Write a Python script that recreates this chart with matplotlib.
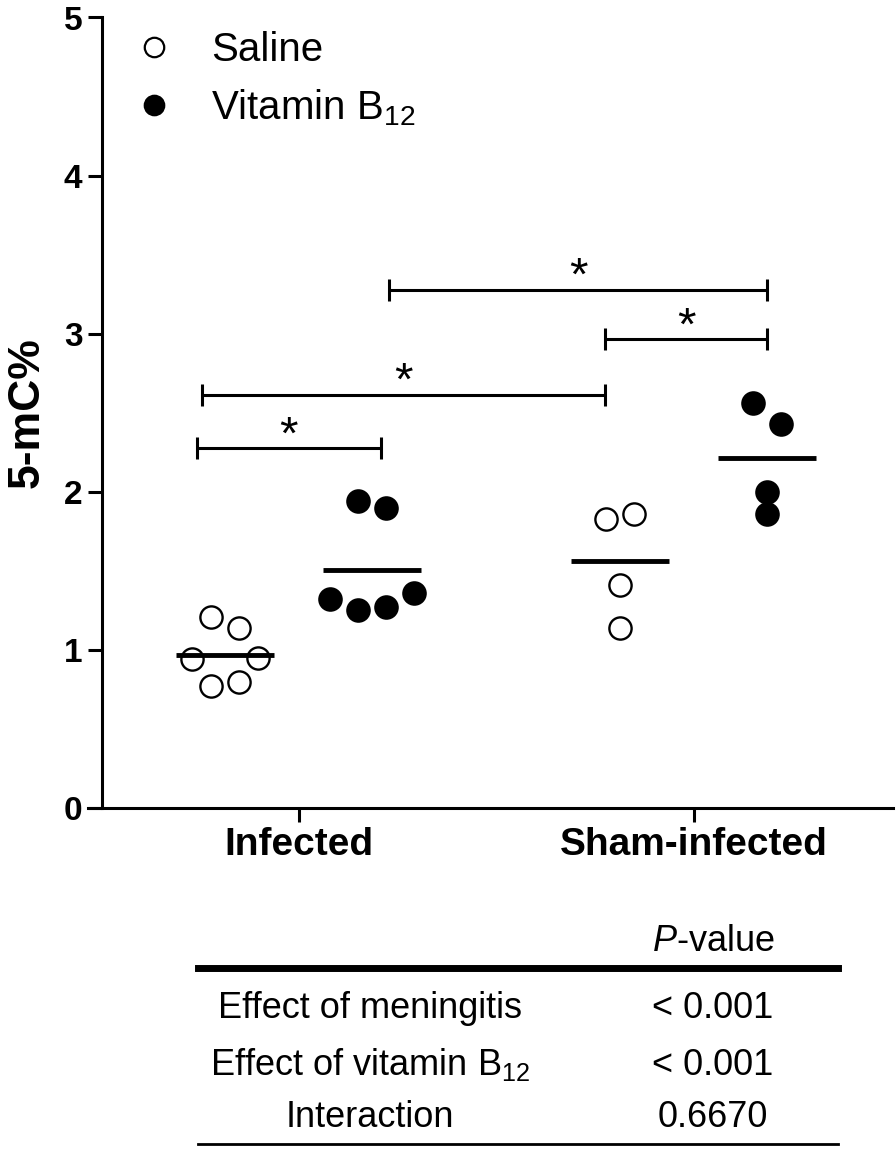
import matplotlib
matplotlib.use("Agg")
import matplotlib.pyplot as plt
import numpy as np
from matplotlib.lines import Line2D

plt.rcParams['font.family'] = ['Liberation Sans', 'DejaVu Sans']
plt.rcParams['mathtext.fontset'] = 'custom'
plt.rcParams['mathtext.rm'] = 'Liberation Sans'
plt.rcParams['mathtext.it'] = 'Liberation Sans:italic'
plt.rcParams['mathtext.bf'] = 'Liberation Sans:bold'

# ---------------- data ----------------
groups = ['Infected', 'Sham-infected']
series_labels = ['Saline', 'Vitamin B$_{12}$']
infected_saline = [1.21, 1.14, 0.94, 0.95, 0.77, 0.80]
infected_b12 = [1.94, 1.90, 1.32, 1.25, 1.27, 1.36]
sham_saline = [1.83, 1.86, 1.41, 1.14]
sham_b12 = [2.56, 2.43, 1.86, 2.00]
y_ticks = [0, 1, 2, 3, 4, 5]
y_label = '5-mC%'
effects = ['Effect of meningitis', 'Effect of vitamin B$_{12}$', 'Interaction']
p_values = ['< 0.001', '< 0.001', '0.6670']
p_header = '$\\mathit{P}$-value'
# significance brackets: (x start, x end, height)
brackets = [(-0.259, 0.207, 2.275),
            (-0.245, 0.775, 2.612),
            (0.228, 1.186, 3.276),
            (0.775, 1.186, 2.964)]

# ---------------- layout ----------------
W, H = 896, 1149
fig = plt.figure(figsize=(W / 100, H / 100), dpi=100)
ax = fig.add_axes([88 / W, (H - 808) / H, 805 / W, 790.5 / H])
ax.set_xlim(-0.534, 1.504)
ax.set_ylim(0, 5)

LW = 2.2
for s in ['top', 'right']:
    ax.spines[s].set_visible(False)
ax.spines['left'].set_position(('data', -0.4987))
ax.spines['left'].set_linewidth(LW)
ax.spines['bottom'].set_linewidth(LW)

ax.set_yticks(y_ticks)
ax.set_yticklabels([str(t) for t in y_ticks], fontsize=24, fontweight='bold')
ax.set_xticks(range(len(groups)))
ax.set_xticklabels(groups, fontsize=28, fontweight='bold')
ax.tick_params(axis='y', direction='out', length=10, width=LW, pad=4)
ax.tick_params(axis='x', direction='out', length=10, width=LW, pad=4)
ax.set_ylabel(y_label, fontsize=32, fontweight='bold', labelpad=12)

offset = 0.186
half_mean = 0.124


def swarm(values, center, spacing_px=28, row_px=22, min_dist_px=30):
    p0 = ax.transData.transform((0, 0))
    sx = ax.transData.transform((1, 0))[0] - p0[0]
    sy = ax.transData.transform((0, 1))[1] - p0[1]
    vals = np.asarray(values, dtype=float)
    order = np.argsort(-vals, kind='stable')
    rows = []
    for i in order:
        if rows and (vals[rows[-1][0]] - vals[i]) * sy < row_px:
            rows[-1].append(i)
        else:
            rows.append([i])
    xs = np.zeros(len(vals))
    placed = []
    for row in reversed(rows):
        row = sorted(row)
        n = len(row)
        half = spacing_px / 2
        for _ in range(200):
            offs = [(k - (n - 1) / 2) * 2 * half for k in range(n)]
            ok = all(np.hypot(o - px, (vals[i] - pv) * sy) >= min_dist_px
                     for o, i in zip(offs, row) for px, pv in placed)
            if ok or n == 1:
                break
            half += 1
        for o, i in zip(offs, row):
            xs[i] = o
            placed.append((o, vals[i]))
    return center + xs / sx


data = [(infected_saline, 0 - offset, False),
        (infected_b12, 0 + offset, True),
        (sham_saline, 1 - offset, False),
        (sham_b12, 1 + offset, True)]
for vals, c, filled in data:
    xs = swarm(vals, c)
    ax.plot(xs, vals, ls='none', marker='o', ms=16, mew=1.7, mec='black',
            mfc='black' if filled else 'white', zorder=2, clip_on=False)
    ax.hlines(np.mean(vals), c - half_mean, c + half_mean, color='black', lw=3.5, zorder=3)

tick_h = 0.07
for x1, x2, y in brackets:
    ax.plot([x1, x2], [y, y], color='black', lw=LW, solid_capstyle='butt')
    ax.plot([x1, x1], [y - tick_h, y + tick_h], color='black', lw=LW, solid_capstyle='butt')
    ax.plot([x2, x2], [y - tick_h, y + tick_h], color='black', lw=LW, solid_capstyle='butt')
    ax.text((x1 + x2) / 2, y + 0.0, '*', ha='center', va='baseline', fontsize=34)

handles = [Line2D([], [], ls='none', marker='o', ms=14, mew=1.6, mec='black', mfc='white'),
           Line2D([], [], ls='none', marker='o', ms=14, mew=1.6, mec='black', mfc='black')]
ax.legend(handles, series_labels, loc='upper left', frameon=False, fontsize=29,
          handlelength=1.0, handletextpad=0.92, labelspacing=0.45, borderpad=0,
          borderaxespad=0, bbox_to_anchor=(133.6 / W, 1 - 31 / H),
          bbox_transform=fig.transFigure)

# ---------------- table ----------------
def fy(py):
    return 1 - py / H

fig.text(713 / W, fy(951), p_header, ha='center', va='baseline', fontsize=26)
fig.add_artist(Line2D([198 / W, 838 / W], [fy(968), fy(968)], lw=5, color='black',
                      transform=fig.transFigure))
row_base = [1018, 1075, 1127]
for eff, pv, yb in zip(effects, p_values, row_base):
    fig.text(370 / W, fy(yb), eff, ha='center', va='baseline', fontsize=26)
    fig.text(713 / W, fy(yb), pv, ha='center', va='baseline', fontsize=26)
fig.add_artist(Line2D([198 / W, 838 / W], [fy(1144), fy(1144)], lw=2, color='black',
                      transform=fig.transFigure))

fig.savefig('out.png', dpi=100)
